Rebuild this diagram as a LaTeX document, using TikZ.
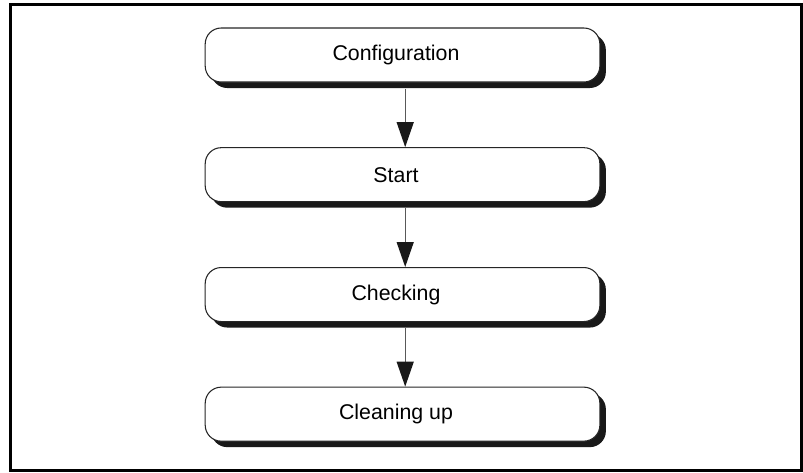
\documentclass[tikz,border=0pt]{standalone}
\usepackage{fontspec}
\setmainfont{Liberation Sans}
\usetikzlibrary{arrows.meta,shadows}

\tikzset{
    stage/.style={draw=black!85, line width=0.8pt, fill=white, rounded corners=12pt,
        minimum width=296pt, minimum height=40.5pt, font=\fontsize{16}{18}\selectfont,
        execute at end node={\hspace*{9.8pt}},
        drop shadow={shadow xshift=4.5pt, shadow yshift=-4.5pt, fill=black!90, opacity=1}},
    flow/.style={-{Triangle[length=18.75pt,width=12.75pt,color=black!90]}, line width=1pt, draw=black!65}
}

\begin{document}
\begin{tikzpicture}
            \useasboundingbox (0,0) rectangle (602.25pt,-354pt);

            % Outer frame
            \draw[line width=2.25pt] (7.9pt,-3pt) rectangle (601.3pt,-352.5pt);

            % Stages
            \node[stage] (config) at (301.9pt,-41.25pt) {Configuration};
            \node[stage] (start) at (301.9pt,-131pt) {Start};
            \node[stage] (check) at (301.9pt,-220.9pt) {Checking};
            \node[stage] (clean) at (301.9pt,-310.6pt) {Cleaning up};

            % Arrows between stages
            \foreach \a/\b in {config/start,start/check,check/clean}
            {
                \draw[flow] ([shift={(2pt,-4.5pt)}]\a.south) -- ([xshift=2pt]\b.north);
            }
        \end{tikzpicture}
\end{document}
